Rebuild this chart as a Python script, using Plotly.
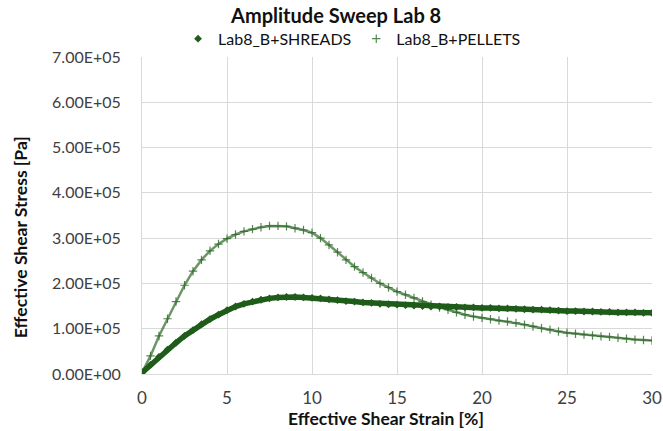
import plotly.graph_objects as go

strain = [0, 0.5, 1, 1.5, 2, 2.5, 3, 3.5, 4, 4.5, 5, 5.5, 6, 6.5, 7, 7.5, 8, 8.5, 9, 9.5,
          10, 10.5, 11, 11.5, 12, 12.5, 13, 13.5, 14, 14.5, 15, 15.5, 16, 16.5, 17, 17.5,
          18, 18.5, 19, 19.5, 20, 20.5, 21, 21.5, 22, 22.5, 23, 23.5, 24, 24.5, 25, 25.5,
          26, 26.5, 27, 27.5, 28, 28.5, 29, 29.5, 30]

shreds = [0.03, 0.2, 0.38, 0.54, 0.69, 0.84, 0.97, 1.1, 1.21, 1.31, 1.41, 1.49, 1.55, 1.6,
          1.64, 1.67, 1.69, 1.7, 1.7, 1.69, 1.68, 1.67, 1.65, 1.63, 1.61, 1.6, 1.58, 1.57,
          1.55, 1.54, 1.53, 1.52, 1.51, 1.5, 1.49, 1.49, 1.48, 1.48, 1.47, 1.47, 1.46, 1.46,
          1.45, 1.45, 1.44, 1.43, 1.42, 1.42, 1.41, 1.4, 1.39, 1.39, 1.38, 1.38, 1.37, 1.37,
          1.36, 1.36, 1.36, 1.35, 1.35]

pellets = [0.03, 0.4, 0.84, 1.22, 1.6, 1.96, 2.27, 2.52, 2.72, 2.87, 2.99, 3.08, 3.15,
           3.2, 3.24, 3.27, 3.27, 3.26, 3.22, 3.18, 3.12, 3.0, 2.85, 2.69, 2.52, 2.37, 2.24,
           2.12, 2.0, 1.91, 1.82, 1.75, 1.68, 1.6, 1.53, 1.47, 1.42, 1.36, 1.31, 1.27, 1.24,
           1.21, 1.18, 1.16, 1.13, 1.09, 1.05, 1.01, 0.98, 0.94, 0.91, 0.89, 0.87, 0.85,
           0.83, 0.82, 0.8, 0.78, 0.76, 0.75, 0.74]

scale = 1e5
y_ticks = [0, 1e5, 2e5, 3e5, 4e5, 5e5, 6e5, 7e5]
y_labels = ["0.00E+00", "1.00E+05", "2.00E+05", "3.00E+05", "4.00E+05", "5.00E+05",
            "6.00E+05", "7.00E+05"]
x_ticks = [0, 5, 10, 15, 20, 25, 30]

green = "#1f5c1a"
pel_col = "rgba(45,105,40,0.8)"
font = "Lato, 'Open Sans', sans-serif"

sh_y = [v * scale for v in shreds]
pe_y = [v * scale for v in pellets]

fig = go.Figure()
fig.add_trace(go.Scatter(x=strain, y=pe_y, mode="lines", showlegend=False,
                         line=dict(color="rgba(45,105,40,0.7)", width=2.5), hoverinfo="skip"))
fig.add_trace(go.Scatter(x=strain, y=pe_y, mode="markers", name="Lab8_B+PELLETS",
                         marker=dict(symbol="cross-thin-open", size=6, color=pel_col,
                                     line=dict(color=pel_col, width=1.2))))
fig.add_trace(go.Scatter(x=strain, y=sh_y, mode="lines", showlegend=False,
                         line=dict(color=green, width=5.5), hoverinfo="skip"))
fig.add_trace(go.Scatter(x=strain, y=sh_y, mode="markers", name="Lab8_B+SHREADS",
                         marker=dict(symbol="diamond", size=6, color=green)))

fig.update_layout(
    width=663, height=431,
    margin=dict(l=142, r=11, t=57, b=57, autoexpand=False),
    paper_bgcolor="white", plot_bgcolor="white",
    font=dict(family=font, color="#404040"),
    title=dict(text="<b>Amplitude Sweep Lab 8</b>", x=0.507, xanchor="center",
               y=0.962, yanchor="middle", font=dict(size=20, color="#111111", family=font)),
    legend=dict(orientation="h", xref="container", x=0.531, xanchor="center",
                yref="container", y=0.91, yanchor="middle", traceorder="reversed",
                font=dict(size=16, color="#111111", family=font), itemwidth=30,
                bgcolor="rgba(0,0,0,0)"),
    showlegend=True,
)
fig.update_xaxes(range=[0, 30], tickvals=x_ticks, showgrid=True, gridcolor="#d9d9d9",
                 gridwidth=1, zeroline=False, showline=True, linecolor="#d9d9d9",
                 ticks="", tickfont=dict(size=17, color="#404040", family=font),
                 ticklabelstandoff=9, automargin=False)
fig.update_yaxes(range=[0, 7e5], tickvals=y_ticks, ticktext=y_labels, showgrid=True,
                 gridcolor="#d9d9d9", gridwidth=1, zeroline=False, showline=True,
                 linecolor="#d9d9d9", ticks="",
                 tickfont=dict(size=16, color="#404040", family=font), ticklabelstandoff=17,
                 automargin=False)

fig.add_annotation(text="<b>Effective Shear Strain [%]</b>", xref="paper", yref="paper",
                   x=0.478, y=-0.14, xanchor="center", yanchor="middle", showarrow=False,
                   font=dict(size=17.5, color="#111111", family=font))
fig.add_annotation(text="<b>Effective Shear Stress [Pa]</b>", xref="paper", yref="paper",
                   x=-0.239, y=0.432, xanchor="center", yanchor="middle", showarrow=False,
                   textangle=-90, font=dict(size=17.5, color="#111111", family=font))

# remove the default 8px page margin so the 663x431 figure fills the window exactly
fig.write_html("out.html", config={"displayModeBar": False},
               post_script="document.body.style.margin='0';")
